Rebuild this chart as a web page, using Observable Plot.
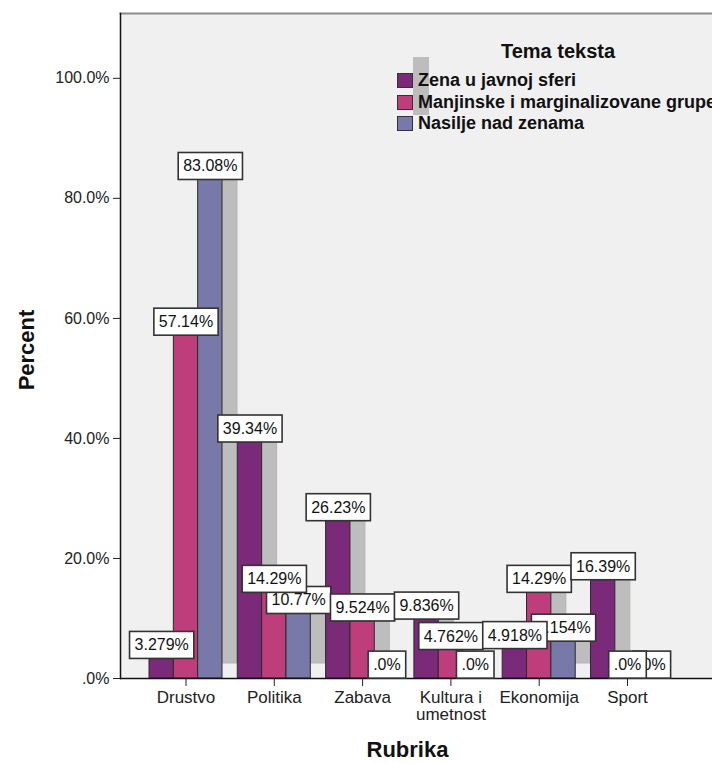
<!DOCTYPE html>
<html>
<head>
<meta charset="utf-8">
<script src="https://cdn.jsdelivr.net/npm/d3@7"></script>
<script src="https://cdn.jsdelivr.net/npm/@observablehq/plot@0.6"></script>
<style>
  html, body { margin: 0; padding: 0; background: #fff; overflow: hidden; }
  #wrap { position: relative; width: 712px; height: 763px; overflow: hidden;
          font-family: "Liberation Sans", Arial, sans-serif; }
  #wrap svg { position: absolute; left: 0; top: 0; }
  .lg-shadow { position: absolute; background: #bdbdbd; }
  .lg-title { position: absolute; font-weight: bold; font-size: 20px; line-height: 20px;
              text-align: center; color: #111; white-space: nowrap; }
  .lg-row { position: absolute; height: 21px; white-space: nowrap; }
  .lg-sw { position: absolute; left: 0; top: 0; width: 14px; height: 13px; border: 1px solid #333; }
  .lg-tx { position: absolute; left: 21px; top: 0; font-weight: bold; font-size: 18px;
           line-height: 21px; color: #111; margin-top: -3px; }
</style>
</head>
<body>
<div id="wrap"></div>
<script>
// ---- data ----
const categories = ["Drustvo", "Politika", "Zabava", "Kultura i umetnost", "Ekonomija", "Sport"];
const seriesNames = ["Zena u javnoj sferi", "Manjinske i marginalizovane grupe", "Nasilje nad zenama"];
const zenaValues      = [3.279, 39.34, 26.23, 9.836, 4.918, 16.39];
const manjinskeValues = [57.14, 14.29, 9.524, 4.762, 14.29, 0];
const nasiljeValues   = [83.08, 10.77, 0, 0, 6.154, 0];
const seriesColors = ["#7b2979", "#bd3e7b", "#7878a9"];
const yTicks = [0, 20, 40, 60, 80, 100];
const legendTitle = "Tema teksta";
const xTitle = "Rubrika";
const yTitle = "Percent";

const seriesValues = [zenaValues, manjinskeValues, nasiljeValues];
const rows = [];
seriesValues.forEach((vals, si) => vals.forEach((v, ci) => rows.push({cat: categories[ci], s: si, value: v})));

// ---- layout ----
const W = 712, H = 763;
const xRange = [149, 663.5];
const padIn = 0.1733;
const step = (xRange[1] - xRange[0]) / (categories.length - padIn);
const bw = step * (1 - padIn);
const barW = bw / 3;
const yMax = 110.8;
const shadowOff = 15;

const fmt = v => v === 0 ? ".0%" : d3.format(".4")(v) + "%";

const marks = [
  Plot.frame({fill: "#f0f0f0", stroke: "none"}),
  Plot.frame({anchor: "top", stroke: "#8a8a8a", strokeWidth: 2}),
];
// shadows
for (let si = 0; si < 3; si++) {
  marks.push(Plot.barY(rows.filter(d => d.s === si), {
    x: "cat", y: "value", fill: "#bdbdbd", stroke: "#b4b4b4", strokeWidth: 1,
    insetLeft: si * barW, insetRight: (2 - si) * barW, dx: shadowOff, dy: -shadowOff
  }));
}
// bars
for (let si = 0; si < 3; si++) {
  marks.push(Plot.barY(rows.filter(d => d.s === si), {
    x: "cat", y: "value", fill: seriesColors[si], stroke: "#2a2a2a", strokeWidth: 1,
    insetLeft: si * barW, insetRight: (2 - si) * barW
  }));
}
marks.push(Plot.ruleY([0], {stroke: "#111", strokeWidth: 1.5}));
marks.push(Plot.frame({anchor: "left", stroke: "#111", strokeWidth: 1.5}));
// value labels (drawn last series first)
for (const si of [2, 1, 0]) {
  marks.push(Plot.text(rows.filter(d => d.s === si), {
    x: "cat", y: "value", text: d => fmt(d.value), dx: (si - 1) * barW, dy: -13.5,
    lineAnchor: "middle", fontSize: 16, fill: "#111"
  }));
}
marks.push(Plot.axisY({
  ticks: yTicks, tickFormat: d => d === 0 ? ".0%" : d.toFixed(1) + "%",
  tickSize: 7, tickPadding: 4, fontSize: 16, label: null, stroke: "#222", color: "#222"
}));
marks.push(Plot.axisX({
  tickSize: 8, tickPadding: 4, fontSize: 17, lineWidth: 5, label: null, color: "#222"
}));
marks.push(Plot.text([yTitle], {text: d => d, frameAnchor: "left", rotate: -90, dx: -94, dy: 4,
  textAnchor: "middle", lineAnchor: "middle", fontSize: 22, fontWeight: "bold", fill: "#111"}));
marks.push(Plot.text([xTitle], {text: d => d, frameAnchor: "bottom", dy: 71, dx: -9,
  textAnchor: "middle", lineAnchor: "middle", fontSize: 22, fontWeight: "bold", fill: "#111"}));

const chart = Plot.plot({
  width: W, height: H,
  marginLeft: 120, marginRight: 0, marginTop: 13, marginBottom: H - 678,
  style: {fontFamily: '"Liberation Sans", Arial, sans-serif', background: "white"},
  x: {type: "band", domain: categories, range: xRange, paddingInner: padIn, paddingOuter: 0, round: false},
  y: {domain: [0, yMax]},
  marks
});

const wrap = document.getElementById("wrap");
wrap.append(chart);

// white boxes behind value labels
d3.select(chart).selectAll('g[aria-label="text"]').each(function () {
  d3.select(this).selectAll("text").each(function () {
    if (!this.textContent.includes("%")) return;
    const b = this.getBBox();
    const cy = b.y + b.height / 2;
    const r = document.createElementNS("http://www.w3.org/2000/svg", "rect");
    r.setAttribute("x", b.x - 5);
    r.setAttribute("y", cy - 13.5);
    r.setAttribute("width", b.width + 10);
    r.setAttribute("height", 27);
    r.setAttribute("fill", "#fff");
    r.setAttribute("stroke", "#333");
    r.setAttribute("stroke-width", 1.6);
    const t = this.getAttribute("transform");
    if (t) r.setAttribute("transform", t);
    this.parentNode.insertBefore(r, this);
  });
});

// legend (HTML overlay)
const sh = document.createElement("div");
sh.className = "lg-shadow";
Object.assign(sh.style, {left: "413px", top: "57px", width: "16px", height: "58px"});
wrap.append(sh);
const tt = document.createElement("div");
tt.className = "lg-title";
tt.textContent = legendTitle;
Object.assign(tt.style, {left: "458px", top: "41px", width: "200px"});
wrap.append(tt);
seriesNames.forEach((name, i) => {
  const row = document.createElement("div");
  row.className = "lg-row";
  row.style.left = "397px";
  row.style.top = (73 + i * 21.5) + "px";
  const sw = document.createElement("div");
  sw.className = "lg-sw";
  sw.style.background = seriesColors[i];
  const tx = document.createElement("div");
  tx.className = "lg-tx";
  tx.textContent = name;
  row.append(sw, tx);
  wrap.append(row);
});
</script>
</body>
</html>
